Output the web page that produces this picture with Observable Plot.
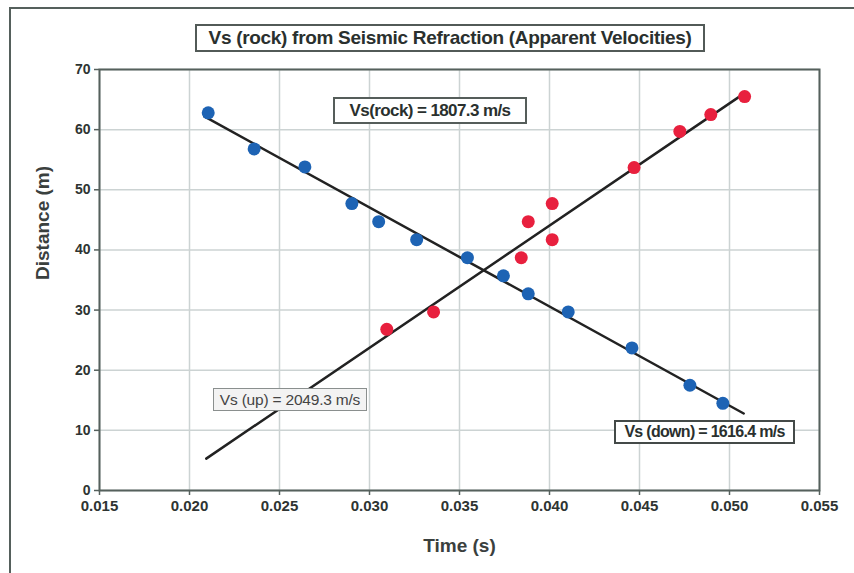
<!DOCTYPE html>
<html>
<head>
<meta charset="utf-8">
<script src="https://cdn.jsdelivr.net/npm/d3@7"></script>
<script src="https://cdn.jsdelivr.net/npm/@observablehq/plot@0.6"></script>
<style>
  html, body { margin: 0; padding: 0; background: #fff; }
  #wrap { position: relative; width: 854px; height: 573px; font-family: "Liberation Sans", Arial, sans-serif; }
  .box { position: absolute; box-sizing: border-box; display: flex; align-items: center; justify-content: center; white-space: nowrap; background: #fff; }
  #outer { position: absolute; left: 9px; top: 7px; right: 0; bottom: 0; border-left: 2px solid #55605c; border-top: 2px solid #55605c; }
</style>
</head>
<body>
<div id="wrap">
  <div id="outer"></div>
  <div id="chart"></div>
</div>
<script>
// Data
const downTime = [0.02104, 0.02359, 0.02641, 0.02902, 0.03051, 0.03262, 0.03544, 0.03744, 0.03882, 0.04104, 0.04458, 0.0478, 0.04963];
const downDist = [62.8, 56.8, 53.8, 47.7, 44.7, 41.7, 38.7, 35.7, 32.7, 29.7, 23.7, 17.5, 14.5];
const upTime = [0.03096, 0.03356, 0.03843, 0.03882, 0.04015, 0.04015, 0.0447, 0.04724, 0.04896, 0.05084];
const upDist = [26.8, 29.7, 38.7, 44.7, 47.7, 41.7, 53.7, 59.7, 62.5, 65.5];
const downFitTime = [0.02082, 0.05079];
const downFitDist = [62.2, 12.8];
const upFitTime = [0.02093, 0.0509];
const upFitDist = [5.3, 66.2];
const xTicks = [0.015, 0.020, 0.025, 0.030, 0.035, 0.040, 0.045, 0.050, 0.055];
const yTicks = [0, 10, 20, 30, 40, 50, 60, 70];
const titleText = "Vs (rock) from Seismic Refraction (Apparent Velocities)";
const xLabel = "Time (s)";
const yLabel = "Distance (m)";
const rockLabel = "Vs(rock) = 1807.3 m/s";
const upLabel = "Vs (up) = 2049.3 m/s";
const downLabel = "Vs (down) = 1616.4 m/s";

const down = downTime.map((t, i) => ({t, d: downDist[i]}));
const up = upTime.map((t, i) => ({t, d: upDist[i]}));
const downFit = downFitTime.map((t, i) => ({t, d: downFitDist[i]}));
const upFit = upFitTime.map((t, i) => ({t, d: upFitDist[i]}));

const axisColor = "#55605c";
const chart = Plot.plot({
  width: 854,
  height: 573,
  marginLeft: 99,
  marginRight: 35,
  marginTop: 69,
  marginBottom: 83,
  style: {fontFamily: "'Liberation Sans', Arial, sans-serif", fontSize: "14px", fontWeight: "bold", color: "#333", background: "transparent"},
  x: {domain: [0.015, 0.055], label: null},
  y: {domain: [0, 70], label: null},
  marks: [
    Plot.gridX(xTicks, {stroke: "#ccd3d3", strokeOpacity: 1, strokeWidth: 1.5}),
    Plot.gridY(yTicks, {stroke: "#ccd3d3", strokeOpacity: 1, strokeWidth: 1.5}),
    Plot.frame({stroke: axisColor, strokeWidth: 2}),
    Plot.axisX(xTicks, {tickFormat: d3.format(".3f"), tickSize: 5, tickPadding: 5, fontSize: 15, letterSpacing: "-0.6px", stroke: axisColor, strokeWidth: 1.5, fill: "#2e3432", label: null}),
    Plot.axisY(yTicks, {tickSize: 5, tickPadding: 4, fontSize: 14, stroke: axisColor, strokeWidth: 1.5, fill: "#2e3432", label: null}),
    Plot.text([yLabel], {frameAnchor: "left", dx: -57, rotate: -90, fontWeight: "bold", fontSize: 19, letterSpacing: "-0.3px", fill: "#3a403e"}),
    Plot.text([xLabel], {frameAnchor: "bottom", dy: 61, fontWeight: "bold", fontSize: 19, letterSpacing: "-0.3px", fill: "#3a403e"}),
    Plot.line(downFit, {x: "t", y: "d", stroke: "#222", strokeWidth: 2.5}),
    Plot.line(upFit, {x: "t", y: "d", stroke: "#222", strokeWidth: 2.5}),
    Plot.dot(down, {x: "t", y: "d", r: 6.5, fill: "#1d63b4", stroke: "none"}),
    Plot.dot(up, {x: "t", y: "d", r: 6.5, fill: "#e8203e", stroke: "none"})
  ]
});
document.getElementById("chart").appendChild(chart);

const wrap = document.getElementById("wrap");
function addBox(text, css, textCss) {
  const b = document.createElement("div");
  b.className = "box";
  Object.assign(b.style, css);
  const s = document.createElement("span");
  s.textContent = text;
  Object.assign(s.style, textCss);
  b.appendChild(s);
  wrap.appendChild(b);
}
addBox(titleText,
  {left: "195px", top: "24px", width: "510px", height: "28px", border: "2px solid #525a57"},
  {fontWeight: "bold", fontSize: "19px", color: "#2a302e", letterSpacing: "-0.3px"});
addBox(rockLabel,
  {left: "333px", top: "97px", width: "194px", height: "27px", border: "2px solid #555d5a"},
  {fontWeight: "bold", fontSize: "17px", color: "#2a302e", letterSpacing: "-0.6px"});
addBox(upLabel,
  {left: "213px", top: "388px", width: "154px", height: "23px", border: "1px solid #8a8f8e", background: "#f3f3f3"},
  {fontWeight: "normal", fontSize: "15.5px", color: "#444", letterSpacing: "-0.2px"});
addBox(downLabel,
  {left: "614px", top: "420px", width: "181px", height: "24px", border: "2px solid #444a48"},
  {fontWeight: "bold", fontSize: "16px", color: "#2a302e", letterSpacing: "-0.7px"});
</script>
</body>
</html>
